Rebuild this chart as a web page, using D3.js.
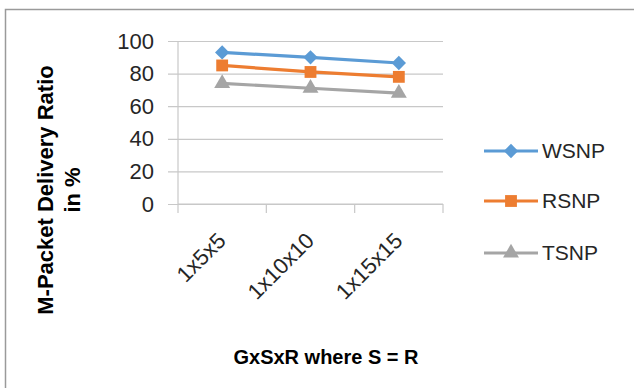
<!DOCTYPE html>
<html>
<head>
<meta charset="utf-8">
<script src="https://cdn.jsdelivr.net/npm/d3@7/dist/d3.min.js"></script>
<style>
  html, body { margin: 0; padding: 0; background: #fff; }
  svg { display: block; font-family: "Liberation Sans", Arial, sans-serif; }
</style>
</head>
<body>
<svg id="chart" width="634" height="388"></svg>
<script>
// Network configurations (G x S x R)
const categories = ["1x5x5", "1x10x10", "1x15x15"];
// M-packet delivery ratio (%) per scheme
const wsnp = [93, 90, 86.5];
const rsnp = [85, 81, 78];
const tsnp = [74, 71, 68];
const yTicks = [0, 20, 40, 60, 80, 100];

const diamond = d3.symbolDiamond2 || d3.symbolDiamond;
const series = [
  { name: "WSNP", values: wsnp, color: "#5B9BD5", symbol: diamond, size: 130 },
  { name: "RSNP", values: rsnp, color: "#ED7D31", symbol: d3.symbolSquare, size: 140 },
  { name: "TSNP", values: tsnp, color: "#A5A5A5", symbol: d3.symbolTriangle, size: 110 }
];

const svg = d3.select("#chart");

// outer frame (top and left edges)
svg.append("path")
  .attr("d", "M5.5,388 L5.5,9.5 L634,9.5")
  .attr("fill", "none")
  .attr("stroke", "#9a9a9a")
  .attr("stroke-width", 1.5);

const plot = { left: 178, right: 443, top: 41, bottom: 204 };

const x = d3.scaleBand().domain(categories).range([plot.left, plot.right]);
const y = d3.scaleLinear().domain([0, 100]).range([plot.bottom, plot.top]);

// horizontal gridlines with short ticks left of the axis
const yAxis = d3.axisLeft(y).tickValues(yTicks).tickSize(-(plot.right - plot.left)).tickSizeOuter(0).tickPadding(14);
const gy = svg.append("g").attr("transform", `translate(${plot.left},0)`).call(yAxis);
gy.select(".domain").remove();
gy.selectAll(".tick line")
  .attr("x1", -10)
  .attr("stroke", "#c8c8c8")
  .attr("stroke-width", 1.2);
gy.selectAll(".tick text")
  .attr("x", -24)
  .attr("font-size", 22)
  .attr("fill", "#262626");

// vertical axis line
svg.append("line")
  .attr("x1", plot.left).attr("x2", plot.left)
  .attr("y1", y(100)).attr("y2", y(0))
  .attr("stroke", "#c8c8c8").attr("stroke-width", 1.2);

// category axis: tick marks on band edges
const edges = categories.map(c => x(c)).concat([x(categories[categories.length - 1]) + x.bandwidth()]);
svg.append("g").selectAll("line").data(edges).join("line")
  .attr("x1", d => d).attr("x2", d => d)
  .attr("y1", y(0)).attr("y2", y(0) + 9)
  .attr("stroke", "#c8c8c8").attr("stroke-width", 1.2);
svg.append("line")
  .attr("x1", plot.left).attr("x2", plot.right)
  .attr("y1", y(0)).attr("y2", y(0))
  .attr("stroke", "#c8c8c8").attr("stroke-width", 1.2);

// rotated category labels
svg.append("g").selectAll("text").data(categories).join("text")
  .attr("transform", d => `translate(${x(d) + x.bandwidth() / 2 + 5},242) rotate(-45)`)
  .attr("text-anchor", "end")
  .attr("font-size", 22)
  .attr("fill", "#262626")
  .text(d => d);

const cx = d => x(d) + x.bandwidth() / 2;
const line = d3.line().x((v, i) => cx(categories[i])).y(v => y(v));

series.forEach(s => {
  svg.append("path")
    .attr("d", line(s.values))
    .attr("fill", "none")
    .attr("stroke", s.color)
    .attr("stroke-width", 3.2)
    .attr("stroke-linejoin", "round");
  svg.append("g").selectAll("path").data(s.values).join("path")
    .attr("transform", (v, i) => `translate(${cx(categories[i])},${y(v)})`)
    .attr("d", d3.symbol().type(s.symbol).size(s.size))
    .attr("fill", s.color);
});

// legend
const legendY = [151, 201, 253];
series.forEach((s, i) => {
  const g = svg.append("g").attr("transform", `translate(0,${legendY[i]})`);
  g.append("line").attr("x1", 484).attr("x2", 538).attr("y1", 0).attr("y2", 0)
    .attr("stroke", s.color).attr("stroke-width", 3.2);
  g.append("path").attr("transform", "translate(511,0)")
    .attr("d", d3.symbol().type(s.symbol).size(s.size)).attr("fill", s.color);
  g.append("text").attr("x", 542).attr("y", 0).attr("dy", "0.35em")
    .attr("font-size", 21).attr("fill", "#262626").text(s.name);
});

// axis titles
svg.append("text")
  .attr("x", 326).attr("y", 364)
  .attr("text-anchor", "middle")
  .attr("font-size", 20).attr("font-weight", "bold").attr("fill", "#000")
  .text("GxSxR where S = R");

const yt = svg.append("text")
  .attr("transform", "translate(0,190) rotate(-90)")
  .attr("text-anchor", "middle")
  .attr("font-size", 22).attr("font-weight", "bold").attr("fill", "#000");
yt.append("tspan").attr("x", 0).attr("y", 53).text("M-Packet Delivery Ratio");
yt.append("tspan").attr("x", 0).attr("y", 80).text("in %");
</script>
</body>
</html>
